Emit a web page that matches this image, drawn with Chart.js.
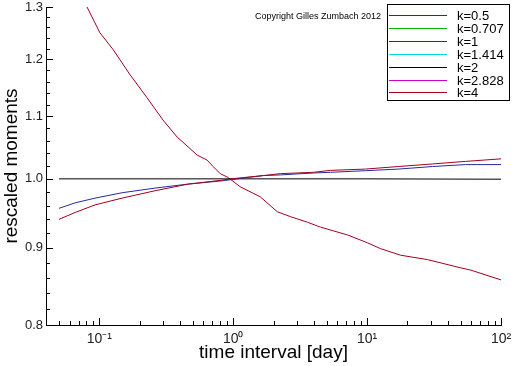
<!DOCTYPE html>
<html>
<head>
<meta charset="utf-8">
<script src="https://cdn.jsdelivr.net/npm/chart.js@4"></script>
<style>
  body { margin: 0; background: #fff; }
  #wrap { width: 512px; height: 366px; }
</style>
</head>
<body>
<div id="wrap"><canvas id="myChart"></canvas></div>
<script>
// legend labels
const kLabels = ['k=0.5', 'k=0.707', 'k=1', 'k=1.414', 'k=2', 'k=2.828', 'k=4'];
const kColors = ['#a0001e', '#00b400', '#2828a0', '#00dcdc', '#000000', '#c800c8', '#a0001e'];

// time intervals for the rising curves
const tLow = [0.05, 0.066, 0.093, 0.148, 0.261, 0.461, 0.828, 1.07, 1.68, 2.25, 3.97, 5.32, 9.7, 17.1, 30.8, 54.4, 100];
const k05 = [0.940, 0.950, 0.961, 0.971, 0.982, 0.992, 0.998, 1.001, 1.005, 1.008, 1.010, 1.013, 1.015, 1.019, 1.023, 1.027, 1.031];
const k1 = [0.956, 0.964, 0.971, 0.979, 0.986, 0.992, 0.997, 1.000, 1.005, 1.006, 1.009, 1.010, 1.0125, 1.015, 1.019, 1.022, 1.022];

const tFlat = [0.05, 1, 10, 80, 100];
const k2 = [1.0, 1.0, 1.0, 0.9995, 0.9995];

const tHigh = [0.081, 0.101, 0.127, 0.17, 0.227, 0.299, 0.381, 0.538, 0.639, 0.708, 0.8, 0.918, 1.128, 1.592, 2.134, 2.668, 3.575, 4.475, 7.12, 10.05, 12.57, 17.74, 28.2, 49.9, 59.3, 100];
const k4 = [1.30, 1.25, 1.218, 1.172, 1.132, 1.094, 1.066, 1.037, 1.029, 1.019, 1.008, 1.002, 0.988, 0.973, 0.951, 0.944, 0.936, 0.929, 0.918, 0.907, 0.899, 0.890, 0.884, 0.873, 0.870, 0.857];

// axis ticks
const yTickValues = [0.8, 0.9, 1.0, 1.1, 1.2, 1.3];
const yTickLabels = ['0.8', '0.9', '1.0', '1.1', '1.2', '1.3'];
const xTickValues = [0.1, 1, 10, 100];
const xTickLabels = ['10\u207B\u00B9', '10\u2070', '10\u00B9', '10\u00B2'];

function pts(xs, ys) {
  return xs.map((x, i) => ({ x: x, y: ys[i] }));
}

const series = [pts(tLow, k05), [], pts(tLow, k1), [], pts(tFlat, k2), [], pts(tHigh, k4)];

const datasets = kLabels.map((label, i) => ({
  label: label,
  data: series[i],
  borderColor: kColors[i],
  backgroundColor: kColors[i],
  borderWidth: 1,
  pointRadius: 0,
  showLine: true,
  tension: 0,
}));

function isMajor(v, list) {
  return list.some(m => Math.abs(m - v) < 1e-9);
}

// inward tick marks + boxed legend + copyright note
const decor = {
  id: 'decor',
  afterDraw(chart) {
    const { ctx, chartArea: { left, bottom }, scales: { x, y } } = chart;
    ctx.save();
    ctx.strokeStyle = '#000';
    ctx.lineWidth = 1;
    ctx.beginPath();
    y.ticks.forEach(t => {
      const py = Math.round(y.getPixelForValue(t.value)) + 0.5;
      const len = isMajor(t.value, yTickValues) ? 7 : 4;
      ctx.moveTo(left, py);
      ctx.lineTo(left + len, py);
    });
    x.ticks.forEach(t => {
      const px = Math.round(x.getPixelForValue(t.value)) + 0.5;
      const len = isMajor(t.value, xTickValues) ? 7 : 4;
      ctx.moveTo(px, bottom);
      ctx.lineTo(px, bottom - len);
    });
    ctx.stroke();

    // legend box
    ctx.fillStyle = '#fff';
    ctx.fillRect(387, 4, 123, 97);
    ctx.strokeRect(387.5, 4.5, 122, 96);
    ctx.font = '13px "Liberation Sans", Arial, sans-serif';
    ctx.textBaseline = 'middle';
    chart.data.datasets.forEach((ds, i) => {
      const ry = Math.round(15 + i * 12.9) + 0.5;
      ctx.strokeStyle = ds.borderColor;
      ctx.beginPath();
      ctx.moveTo(389, ry);
      ctx.lineTo(447, ry);
      ctx.stroke();
      ctx.fillStyle = '#000';
      ctx.fillText(ds.label, 457, ry + 1);
    });

    ctx.font = '9px "Liberation Sans", Arial, sans-serif';
    ctx.fillStyle = '#000';
    ctx.textBaseline = 'middle';
    ctx.fillText('Copyright Gilles Zumbach 2012', 255, 17);
    ctx.restore();
  },
};

const config = {
  type: 'scatter',
  data: { datasets: datasets },
  options: {
    responsive: true,
    maintainAspectRatio: false,
    animation: false,
    layout: { padding: 0 },
    plugins: { legend: { display: false }, tooltip: { enabled: false } },
    scales: {
      x: {
        type: 'logarithmic',
        min: 0.04,
        max: 100,
        grid: { display: false, drawTicks: false },
        border: { display: true, color: '#000', width: 1 },
        afterBuildTicks(scale) {
          const ticks = [];
          for (let d = -2; d <= 2; d++) {
            for (let m = 1; m <= 9; m++) {
              const v = m * Math.pow(10, d);
              if (v >= 0.04 && v <= 100.0001) ticks.push({ value: v });
            }
          }
          scale.ticks = ticks;
        },
        afterFit(scale) {
          scale.height = 41;
          scale.paddingLeft = 0;
          scale.paddingRight = 11;
        },
        ticks: {
          autoSkip: false,
          maxRotation: 0,
          padding: 6,
          color: '#222',
          font: { family: '"Liberation Sans", Arial, sans-serif', size: 14 },
          callback(value) {
            const i = xTickValues.findIndex(m => Math.abs(m - value) < 1e-9);
            return i >= 0 ? xTickLabels[i] : '';
          },
        },
        title: {
          display: true,
          text: 'time interval [day]',
          color: '#000',
          padding: { top: 0, bottom: 2 },
          font: { family: '"Liberation Sans", Arial, sans-serif', size: 19 },
        },
      },
      y: {
        type: 'logarithmic',
        min: 0.8,
        max: 1.3,
        grid: { display: false, drawTicks: false },
        border: { display: true, color: '#000', width: 1 },
        afterBuildTicks(scale) {
          const ticks = [];
          for (let i = 0; i <= 25; i++) ticks.push({ value: +(0.8 + i * 0.02).toFixed(2) });
          scale.ticks = ticks;
        },
        afterFit(scale) {
          scale.width = 46;
          scale.paddingTop = 7;
          scale.paddingBottom = 0;
        },
        ticks: {
          autoSkip: false,
          padding: 3,
          color: '#222',
          font: { family: '"Liberation Sans", Arial, sans-serif', size: 13 },
          callback(value) {
            const i = yTickValues.findIndex(m => Math.abs(m - value) < 1e-9);
            return i >= 0 ? yTickLabels[i] : '';
          },
        },
        title: {
          display: true,
          text: 'rescaled moments',
          color: '#000',
          padding: { top: 0, bottom: 0 },
          font: { family: '"Liberation Sans", Arial, sans-serif', size: 19 },
        },
      },
    },
  },
  plugins: [decor],
};

const myChart = new Chart(document.getElementById('myChart'), config);
</script>
</body>
</html>
